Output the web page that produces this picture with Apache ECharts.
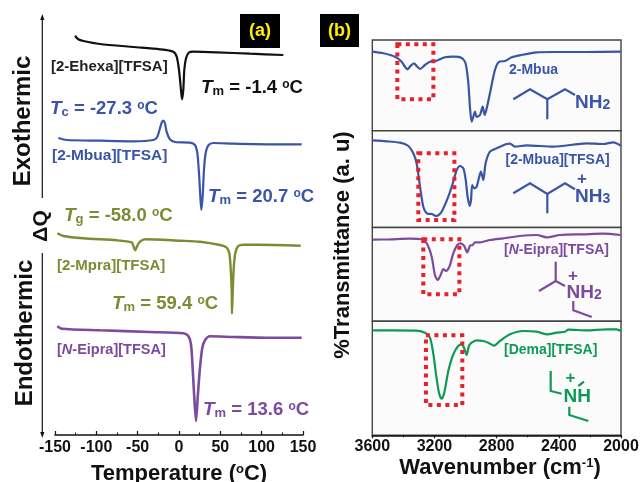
<!DOCTYPE html>
<html><head><meta charset="utf-8">
<style>html,body{margin:0;padding:0;background:#fff}#c{width:640px;height:482px}</style>
<script src="https://cdn.jsdelivr.net/npm/echarts@6/dist/echarts.min.js"></script>
</head><body><div id="c"></div>
<script>
// ---- Panel (a): DSC traces [temperature, offset heat flow] ----
const ehexa=[[-125.8,399.3],[-121.8,395.7],[-115.7,394],[-95.6,391],[-55.2,388],[-23,385.7],[-6.9,383.3],[-2.8,378.3],[0,365],[2.4,345],[3.6,335.7],[5.2,345],[6.4,365],[8.5,376.7],[11.7,382.3],[17.3,383.3],[45.6,382.7],[85.9,381.3],[126.2,380]];
const mbuaDsc=[[-146,297],[-135.9,295],[-95.6,294.3],[-55.2,293.7],[-31,295],[-26.2,298.3],[-23,306.7],[-21,312.3],[-19,314.3],[-17,311.7],[-15,303.3],[-11,295.7],[-4.8,293],[13.3,292.3],[19.3,290],[22.2,281.7],[24.2,261.7],[25.8,238.3],[27,225],[28.6,238.3],[30.2,265],[32.2,281.7],[35.5,289.7],[41.5,292],[65.7,291.3],[106,290.7],[148.4,290.7]];
const mpra=[[-147.2,201.7],[-140,199],[-115.8,196.7],[-75.4,194.7],[-57.2,192.7],[-55.3,189.3],[-52.9,184.7],[-50.4,189.3],[-47.2,193.3],[-41.1,195.7],[1.2,194.3],[25.4,193.3],[49.6,190],[57.7,187.3],[60.9,181.7],[62.5,166.7],[63.8,143.3],[64.1,121.3],[65,143.3],[66.2,166.7],[68.1,181.7],[71.7,189],[77.8,190.3],[114,190],[147.2,189.3]];
const eipraDsc=[[-147.2,108.7],[-141.9,106.3],[-95.6,104.7],[-35.1,103],[5.2,101.7],[11.3,99],[14.5,90.7],[16.5,67.3],[18.5,37.3],[20.6,14],[22.6,37.3],[25.4,67.3],[28.2,87.3],[32.2,95.7],[37.5,98.7],[65.7,98],[106,97.3],[148.4,97.3]];
const tempTicks=[-150,-100,-50,0,50,100,150];
// ---- Panel (b): FTIR traces [wavenumber, transmittance in arbitrary units] ----
const mbuaIr=[[3600,79],[3529,77.4],[3454,74],[3411,69],[3390,64],[3373,61.4],[3353,65],[3332,67.4],[3315,64.7],[3293,61.7],[3261,65.7],[3229,69],[3186,70],[3132,73.4],[3079,74],[3025,72.7],[3000,67.4],[2982,47.4],[2972,24],[2961,9],[2950,14],[2939,19],[2929,14],[2907,15.7],[2890,24],[2877,15.7],[2864,22.4],[2843,37.4],[2811,60.7],[2783,69],[2746,69.7],[2703,73.4],[2650,75.4],[2543,78.4],[2435,78.7],[2221,78.7],[2000,79]];
const mbuaTfsaIr=[[3600,87.2],[3508,86.2],[3422,84.8],[3368,81.5],[3336,74.2],[3315,64.2],[3293,40.8],[3272,20.8],[3250,14.2],[3218,13.5],[3186,11.5],[3154,15.8],[3111,30.8],[3079,45.8],[3057,57.5],[3036,61.5],[3014,59.2],[2999,47.5],[2987,30.8],[2974,21.5],[2965,27.5],[2957,42.5],[2944,39.2],[2929,40.8],[2912,50.8],[2901,55.8],[2886,47.5],[2871,64.2],[2843,75.8],[2800,79.2],[2736,83.5],[2714,83.8],[2682,80.8],[2607,82.2],[2435,80.8],[2221,84.2],[2114,83.5],[2049,85.2],[2000,81.8]];
const eipraIr=[[3598,81.6],[3486,82],[3357,82.6],[3282,82],[3250,78],[3218,64.6],[3197,46.3],[3179,41.3],[3160,46.3],[3143,52.3],[3126,50.3],[3104,54.6],[3079,68],[3053,76.3],[3031,78],[3010,75.6],[2989,69],[2971,75.6],[2954,76.3],[2939,79],[2907,79],[2843,81.3],[2757,83],[2650,85.3],[2542,86.3],[2478,84],[2392,86.3],[2242,87],[2114,87.6],[2002,86.3]];
const demaIr=[[3600,105],[3465,105],[3315,104.6],[3261,102.6],[3229,97.6],[3207,81],[3190,61],[3171,42.6],[3154,36.6],[3137,42.6],[3111,64.3],[3079,81],[3047,89.3],[3025,91],[3010,87.6],[2993,80.3],[2978,89.3],[2961,92.6],[2929,95],[2886,94.3],[2854,92.6],[2817,89.6],[2779,94.3],[2714,101],[2628,104.3],[2543,103.6],[2478,101],[2414,102.6],[2360,103.6],[2339,105.6],[2221,105],[2092,106],[2028,106],[2000,104.3]];
const waveTicks=[3600,3200,2800,2400,2000];
const boxes=[[3439,86.4,3207,31.4],[3304,74.2,3072,7.5],[3272,82,3040,27],[3255,100,3021,30.3]];

const BLUE='#3a55a6',OLIVE='#7f8a35',PURPLE='#7c4a9e',GREEN='#0e9a55',RED='#e8202a',BLACK='#111';
const FF='"Liberation Sans",Arial,sans-serif';
const panels=[{top:40,h:90.7,data:mbuaIr,c:BLUE},{top:130.7,h:96.8,data:mbuaTfsaIr,c:BLUE},{top:227.5,h:93.8,data:eipraIr,c:PURPLE},{top:321.3,h:114,data:demaIr,c:GREEN}];

const grid=[{left:55,width:248,top:20,height:415,outerBoundsMode:'none'}];
const xAxis=[{gridIndex:0,type:'value',min:-150,max:150,interval:50,
  axisLine:{show:true,onZero:false,lineStyle:{color:BLACK,width:1.5}},
  axisTick:{show:true,inside:true,length:4,lineStyle:{color:BLACK,width:1.2}},
  minorTick:{show:true,splitNumber:2,length:2.5,lineStyle:{color:BLACK,width:1}},
  splitLine:{show:false},
  axisLabel:{color:BLACK,fontWeight:'bold',fontSize:16,fontFamily:FF,margin:5,hideOverlap:false,showMinLabel:true,showMaxLabel:true,formatter:v=>String(v)},
  name:'{a|Temperature (}{s|o}{a|C)}',nameLocation:'middle',nameGap:28,
  nameTextStyle:{rich:{a:{fontSize:22,fontWeight:'bold',fontFamily:FF,color:BLACK},s:{fontSize:13,fontWeight:'bold',fontFamily:FF,color:BLACK,verticalAlign:'top'}}}}];
const yAxis=[{gridIndex:0,type:'value',min:0,max:415,show:false}];
const line=(name,data,c,w,xi,extra)=>Object.assign({name,type:'line',data,xAxisIndex:xi,yAxisIndex:xi,symbol:'none',smooth:0.25,silent:true,lineStyle:{color:c,width:w}},extra||{});
const series=[
 line('[2-Ehexa][TFSA]',ehexa,BLACK,2.2,0),
 line('[2-Mbua][TFSA]',mbuaDsc,BLUE,2.2,0),
 line('[2-Mpra][TFSA]',mpra,OLIVE,2.4,0),
 line('[N-Eipra][TFSA]',eipraDsc,PURPLE,2.6,0)];
panels.forEach((p,i)=>{
  const k=i+1,last=i===3;
  grid.push({left:372.3,width:248.7,top:p.top,height:p.h,show:true,outerBoundsMode:'none',backgroundColor:'#fbfbfb',borderColor:'#444',borderWidth:1.4});
  xAxis.push({gridIndex:k,type:'value',min:2000,max:3600,interval:400,inverse:true,show:last,
    axisLine:{show:true,onZero:false,lineStyle:{color:BLACK,width:1.5}},
    axisTick:{show:true,inside:false,length:3,lineStyle:{color:BLACK,width:1.2}},
    minorTick:{show:true,splitNumber:2,length:2,lineStyle:{color:BLACK,width:1}},
    splitLine:{show:false},
    axisLabel:{color:BLACK,fontWeight:'bold',fontSize:16,fontFamily:FF,margin:3,hideOverlap:false,showMinLabel:true,showMaxLabel:true,formatter:v=>String(v)}});
  yAxis.push({gridIndex:k,type:'value',min:0,max:p.h,show:false});
  const b=boxes[i];
  series.push(line('ir'+i,p.data,p.c,2.2,k,{z:3,markArea:{silent:true,z:4,itemStyle:{color:'rgba(0,0,0,0)',borderColor:RED,borderWidth:4,borderType:[4,4.5]},data:[[{xAxis:b[0],yAxis:b[1]},{xAxis:b[2],yAxis:b[3]}]]}}));
});

function plain(x,y,t,c,fs,o){return Object.assign({type:'text',z:10,silent:true,style:{x,y,text:t,fill:c,font:`bold ${fs}px ${FF}`,align:'left',verticalAlign:'middle'}},o||{});}
function rot(x,y,t,c,fs){return {type:'text',z:10,silent:true,x,y,rotation:Math.PI/2,style:{x:0,y:0,text:t,fill:c,font:`bold ${fs}px ${FF}`,align:'center',verticalAlign:'middle'}};}
function ann(x,y,sym,sub,val,c){
  const s={fontFamily:FF,fontWeight:'bold',fill:c};
  return {type:'text',z:10,silent:true,style:{x,y,align:'left',verticalAlign:'middle',
    text:`{i|${sym}}{b|${sub}}{n| = ${val} }{u|o}{n|C}`,
    rich:{i:{...s,fontStyle:'italic',fontSize:19},b:{...s,fontSize:13,verticalAlign:'bottom'},n:{...s,fontSize:18.5},u:{...s,fontSize:12,verticalAlign:'top'}}}};
}
function rich(x,y,text,c,fs,subFs){
  const s={fontFamily:FF,fontWeight:'bold',fill:c};
  return {type:'text',z:10,silent:true,style:{x,y,align:'left',verticalAlign:'middle',text,
    rich:{n:{...s,fontSize:fs},i:{...s,fontStyle:'italic',fontSize:fs},b:{...s,fontSize:subFs,verticalAlign:'bottom'},u:{...s,fontSize:subFs,verticalAlign:'top'}}}};
}
function poly(pts,c,w){return {type:'polyline',z:10,silent:true,shape:{points:pts},style:{stroke:c,lineWidth:w||2.2,fill:null}};}
function box(x,y,w,h){return {type:'rect',z:9,silent:true,shape:{x,y,width:w,height:h},style:{fill:'#000'}};}
function tri(pts){return {type:'polygon',z:10,silent:true,shape:{points:pts},style:{fill:'#111'}};}
function centered(x,y,t,c,fs){return {type:'text',z:10,silent:true,style:{x,y,text:t,fill:c,font:`bold ${fs}px ${FF}`,align:'center',verticalAlign:'middle'}};}

const graphic=[
 box(240,14,40,34),centered(260,31,'(a)','#ffee00',18),
 box(320,14,39,33),centered(339.5,31,'(b)','#ffee00',18),
 poly([[42.3,18],[42.3,198]],'#111',1.2),tri([[42.3,14],[40.2,20],[44.4,20]]),
 poly([[42.3,253],[42.3,434]],'#111',1.2),tri([[42.3,438],[40.2,432],[44.4,432]]),
 rot(23,121,'Exothermic',BLACK,24),rot(25,333,'Endothermic',BLACK,24),rot(41,226,'ΔQ',BLACK,21),
 rot(343,245,'%Transmittance (a. u)',BLACK,22),
 plain(51,67,'[2-Ehexa][TFSA]','#222',15),
 plain(52,156,'[2-Mbua][TFSA]',BLUE,15.5),
 plain(57,266,'[2-Mpra][TFSA]',OLIVE,15),
 rich(57,350,'{n|[}{i|N}{n|-Eipra][TFSA]}',PURPLE,14.5,9),
 ann(201,88,'T','m','-1.4',BLACK),
 ann(50,109,'T','c','-27.3',BLUE),
 ann(208,197,'T','m','20.7',BLUE),
 ann(64,216,'T','g','-58.0',OLIVE),
 ann(112,304,'T','m','59.4',OLIVE),
 ann(203,410,'T','m','13.6',PURPLE),
 plain(509,70,'2-Mbua',BLUE,14),
 plain(505.5,160,'[2-Mbua][TFSA]',BLUE,14),
 rich(504,250,'{n|[}{i|N}{n|-Eipra][TFSA]}',PURPLE,14,9),
 plain(504,350,'[Dema][TFSA]',GREEN,14),
 poly([[513.3,99.3],[530,89.3],[547.3,99.3],[565,89.3],[575,95]],BLUE),poly([[547.3,99.3],[547.3,119.3]],BLUE),
 rich(575,103,'{n|NH}{b|2}',BLUE,19,14),
 poly([[513.3,193.3],[530,183.3],[547.3,194],[565,183.3],[575,189.3]],BLUE),poly([[547.3,194],[547.3,213.3]],BLUE),
 rich(575,197,'{n|NH}{b|3}',BLUE,19,14),plain(577,179,'+',BLUE,17),
 poly([[539,291],[555.7,281],[565,286]],PURPLE),poly([[555.7,281],[555.7,261.7]],PURPLE),
 rich(566.5,293,'{n|NH}{b|2}',PURPLE,19,14),plain(568,276,'+',PURPLE,17),
 poly([[573.3,301],[573.3,310.3],[591.7,317]],PURPLE),
 poly([[550.7,371],[550.7,391],[561.7,393.7]],GREEN),
 plain(563.5,397,'NH',GREEN,19),plain(565.5,378,'+',GREEN,17),
 poly([[578.3,386],[584,381.7]],GREEN),
 poly([[569.3,406.7],[569.3,415],[588.3,421]],GREEN),
 {type:'text',z:10,silent:true,style:{x:500,y:468,align:'center',verticalAlign:'middle',text:'{n|Wavenumber (cm}{u|-1}{n|)}',
   rich:{n:{fontFamily:FF,fontWeight:'bold',fontSize:22,fill:BLACK},u:{fontFamily:FF,fontWeight:'bold',fontSize:13,fill:BLACK,verticalAlign:'top'}}}}
];
const chart=echarts.init(document.getElementById('c'),null,{renderer:'canvas',width:640,height:482});
chart.setOption({animation:false,backgroundColor:'#fff',grid,xAxis,yAxis,series,graphic});
</script></body></html>
